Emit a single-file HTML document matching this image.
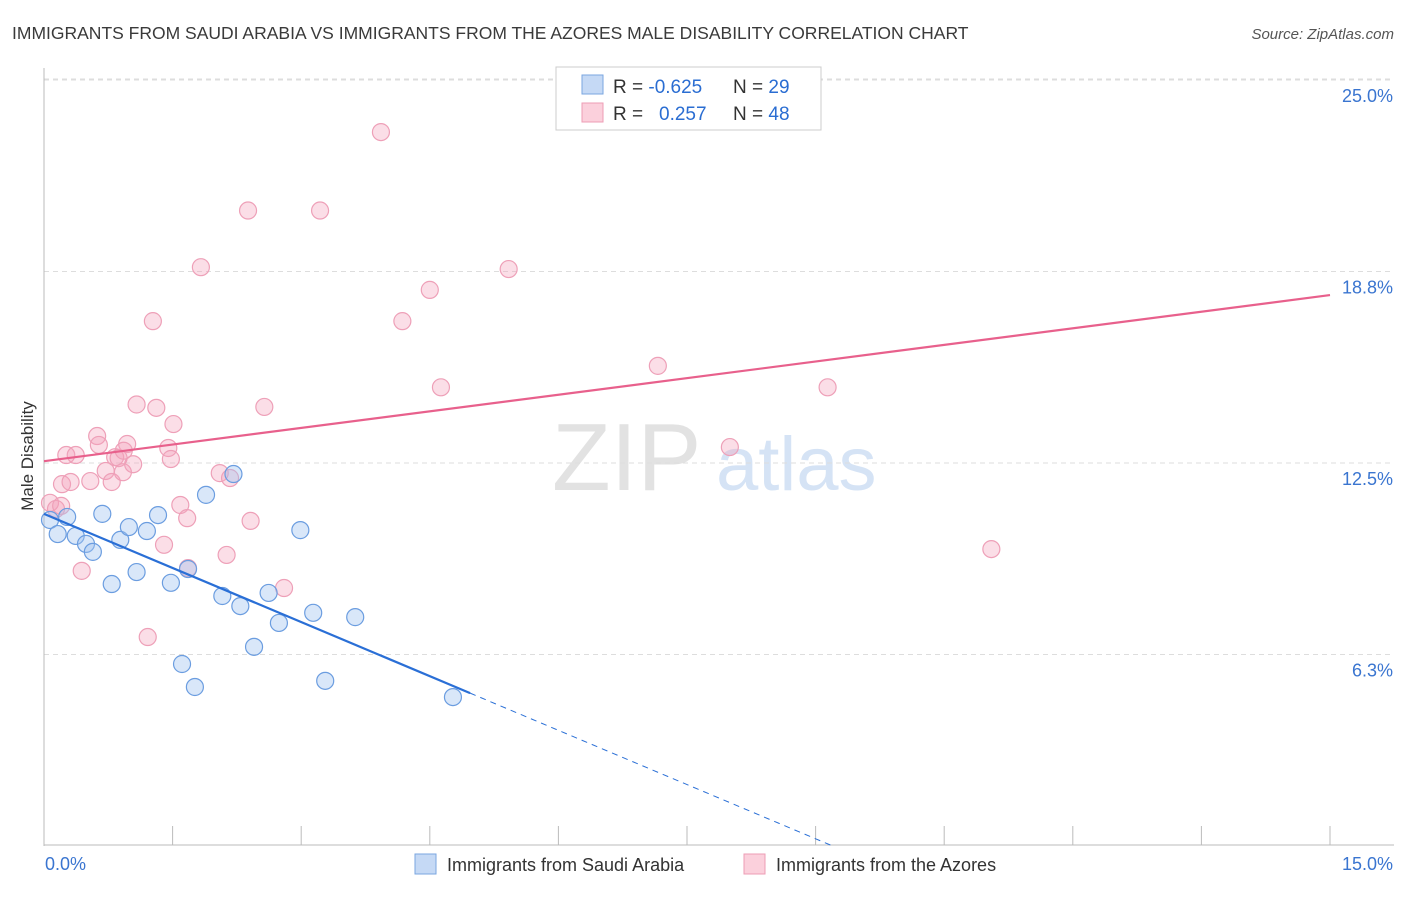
<!DOCTYPE html>
<html><head><meta charset="utf-8"><style>
body{margin:0;background:#fff;font-family:"Liberation Sans",sans-serif;}
svg text{font-family:"Liberation Sans",sans-serif;}
</style></head><body>
<svg id="chart" width="1406" height="892" xmlns="http://www.w3.org/2000/svg">
<text x="12" y="39" font-size="17.5" fill="#3a3a3a">IMMIGRANTS FROM SAUDI ARABIA VS IMMIGRANTS FROM THE AZORES MALE DISABILITY CORRELATION CHART</text>
<text x="1394" y="39" font-size="15" fill="#555" font-style="italic" text-anchor="end">Source: ZipAtlas.com</text>
<g>
<text x="552" y="490" font-size="96" fill="#e2e2e2" font-family="Liberation Serif,serif">ZIP</text>
<text x="716" y="490" font-size="76" fill="#d5e3f5">atlas</text>
</g>
<g id="grid"></g>
<g id="axes"></g>
<g id="marks"></g>
<text transform="translate(33,456) rotate(-90)" font-size="17" fill="#333" text-anchor="middle">Male Disability</text>
<g>
<rect x="556" y="67" width="265" height="63" fill="#fff" stroke="#ccc"/>
<rect x="582" y="75" width="21" height="19" fill="#c5d9f5" stroke="#7aa6e0"/>
<rect x="582" y="103" width="21" height="19" fill="#fbd0dc" stroke="#ee9db5"/>
<text x="613" y="93" font-size="19" fill="#333">R = <tspan fill="#2a6dd2">-0.625</tspan></text>
<text x="733" y="93" font-size="19" fill="#333">N = <tspan fill="#2a6dd2">29</tspan></text>
<text x="613" y="120" font-size="19" fill="#333">R = <tspan fill="#2a6dd2" x="659">0.257</tspan></text>
<text x="733" y="120" font-size="19" fill="#333">N = <tspan fill="#2a6dd2">48</tspan></text>
</g>
<g>
<rect x="415" y="854" width="21" height="20" fill="#c5d9f5" stroke="#7aa6e0"/>
<text x="447" y="871" font-size="18" fill="#333">Immigrants from Saudi Arabia</text>
<rect x="744" y="854" width="21" height="20" fill="#fbd0dc" stroke="#ee9db5"/>
<text x="776" y="871" font-size="18" fill="#333">Immigrants from the Azores</text>
</g>
</svg>
<script>
const xTicks=[0,1.5,3,4.5,6,7.5,9,10.5,12,13.5,15];
const yTicks=[6.25,12.5,18.75,25];
const yTickLabels=["6.3%","12.5%","18.8%","25.0%"];
const blueX=[0.07,0.16,0.27,0.37,0.49,0.57,0.68,0.79,0.89,0.99,1.08,1.2,1.33,1.48,1.61,1.68,1.76,1.89,2.08,2.21,2.29,2.45,2.62,2.74,2.99,3.14,3.28,3.63,4.77];
const blueY=[10.64,10.18,10.74,10.12,9.86,9.6,10.84,8.55,9.99,10.41,8.94,10.28,10.8,8.59,5.94,9.04,5.19,11.46,8.16,12.14,7.83,6.5,8.26,7.28,10.31,7.61,5.39,7.47,4.86];
const pinkX=[0.07,0.14,0.21,0.26,0.31,0.37,0.44,0.54,0.62,0.64,0.72,0.79,0.83,0.87,0.92,0.97,1.04,1.08,1.21,1.27,1.31,1.4,1.45,1.48,1.51,1.59,1.67,1.68,1.83,2.05,2.13,2.17,2.38,2.41,2.57,2.8,3.22,3.93,4.18,4.5,4.63,5.42,7.16,8.0,9.14,11.05,0.2,0.93];
const pinkY=[11.2,11.0,11.81,12.76,11.88,12.76,8.98,11.91,13.38,13.09,12.24,11.88,12.69,12.66,12.2,13.12,12.46,14.41,6.82,17.13,14.3,9.83,12.99,12.63,13.77,11.13,10.7,9.07,18.89,12.17,9.5,12.01,20.74,10.61,14.33,8.42,20.74,23.3,17.13,18.15,14.97,18.83,15.67,13.02,14.97,9.69,11.1,12.9];
const X=v=>44+v/15*1286, Y=v=>846-v/25*766;
const NS="http://www.w3.org/2000/svg";
function mk(p,t,a){const e=document.createElementNS(NS,t);for(const k in a)e.setAttribute(k,a[k]);p.appendChild(e);return e;}
const grid=document.getElementById('grid'),axes=document.getElementById('axes'),marks=document.getElementById('marks');
yTicks.forEach((t,i)=>{
 const l=mk(grid,'line',{x1:44,x2:1394,y1:Y(t),y2:Y(t),stroke:'#ddd','stroke-dasharray':'5,4'});
 
 
 const tx=mk(axes,'text',{x:1393,y:Y(t)+22,'font-size':18,fill:'#3a75d0','text-anchor':'end'});
 tx.textContent=yTickLabels[i];
 
 
});
mk(grid,'line',{x1:44,x2:1394,y1:79,y2:79,stroke:'#ddd','stroke-dasharray':'5,4'});
const ax=mk(axes,'line',{x1:44,x2:44,y1:68,y2:846,stroke:'#bbb'});


const bx=mk(axes,'line',{x1:44,x2:1394,y1:845,y2:845,stroke:'#bbb'});


xTicks.forEach(t=>{const l=mk(axes,'line',{x1:X(t),x2:X(t),y1:826,y2:845,stroke:'#bbb'});
 
 });
const x0=mk(axes,'text',{x:45,y:870,'font-size':18,fill:'#3a75d0'});x0.textContent='0.0%';


const x1=mk(axes,'text',{x:1393,y:870,'font-size':18,fill:'#3a75d0','text-anchor':'end'});x1.textContent='15.0%';


pinkX.forEach((v,i)=>{const c=mk(marks,'circle',{cx:X(v),cy:Y(pinkY[i]),r:8.5,fill:'rgba(244,160,185,0.35)',stroke:'#eea0b8','stroke-width':1.2});
 
 });
blueX.forEach((v,i)=>{const c=mk(marks,'circle',{cx:X(v),cy:Y(blueY[i]),r:8.5,fill:'rgba(160,195,240,0.4)',stroke:'#6b9de0','stroke-width':1.2});
 
 });
const pl=mk(marks,'line',{x1:X(0),y1:Y(12.56),x2:X(15),y2:Y(17.98),stroke:'#e8608c','stroke-width':2.2});


const bl=mk(marks,'line',{x1:X(0),y1:Y(10.84),x2:X(4.97),y2:Y(4.99),stroke:'#2a6fd6','stroke-width':2.2});


const bd=mk(marks,'line',{x1:X(4.97),y1:Y(4.99),x2:X(9.2),y2:Y(0),stroke:'#2a6fd6','stroke-width':1,'stroke-dasharray':'6,5'});


</script>
</body></html>
